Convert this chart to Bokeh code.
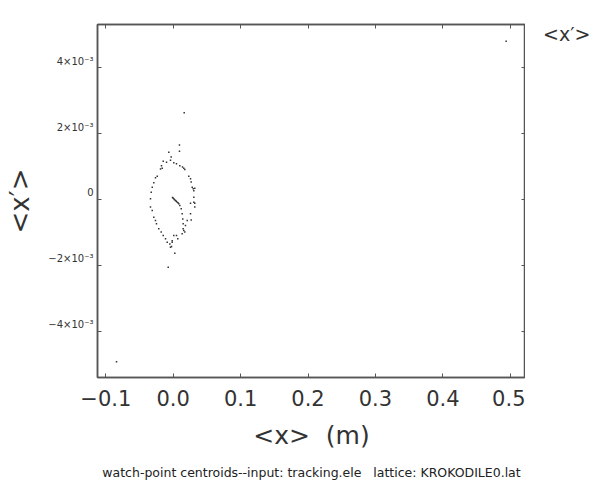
from bokeh.plotting import figure
from bokeh.layouts import row
from bokeh.models import (Range1d, LinearAxis, FixedTicker, CustomJSTickFormatter, Title,
                          Legend, LegendItem)
from bokeh.embed import file_html
from bokeh.resources import INLINE

FONT = "DejaVu Sans"

# watch-point centroids: <x> (m) and <x'> (mrad)
x_vals = [0.0163, 0.0093, 0.0093, -0.0065, -0.0030, -0.0040, -0.0148, -0.0099, 0.0009, 0.0049,
          0.0098, 0.0138, 0.0157, 0.0172, -0.0174, -0.0163, -0.0188, -0.0237, -0.0263, -0.0288,
          -0.0311, -0.0326, -0.0337, 0.0231, 0.0257, 0.0267, 0.0282, 0.0297, 0.0320, 0.0306,
          0.0306, 0.0257, 0.0320, -0.0010, 0.0001, 0.0009, 0.0020, 0.0034, 0.0046, 0.0059,
          0.0071, 0.0083, 0.0098, 0.0119, 0.0133, 0.0142, 0.0148, 0.0148, 0.0133, 0.0306,
          0.0320, 0.0257, 0.0208, 0.0267, 0.0182, 0.0157, 0.0172, -0.0337, -0.0311, -0.0288,
          -0.0263, -0.0248, -0.0214, -0.0178, -0.0148, -0.0114, -0.0089, -0.0050, -0.0015, 0.0009,
          0.0049, 0.0068, -0.0040, -0.0015, -0.0025, 0.0024, -0.0074, 0.4939, -0.0841]
xp_vals_mrad = [2.64, 1.66, 1.47, 1.44, 1.29, 1.19, 1.16, 1.13, 1.12, 1.09,
                1.03, 0.99, 0.95, 0.91, 1.03, 0.95, 0.93, 0.71, 0.66, 0.51,
                0.37, 0.22, 0.02, 0.71, 0.63, 0.53, 0.37, 0.33, 0.34, 0.27,
                0.07, -0.11, -0.11, 0.06, 0.04, 0.02, -0.01, -0.03, -0.05, -0.08,
                -0.10, -0.13, -0.18, -0.28, -0.43, -0.59, -0.74, -0.89, -1.04, -0.08,
                -0.23, -0.43, -0.64, -0.62, -0.79, -0.94, -0.99, -0.23, -0.33, -0.54,
                -0.64, -0.74, -0.89, -0.99, -1.09, -1.19, -1.30, -1.35, -1.25, -1.09,
                -1.09, -1.19, -1.45, -1.30, -1.43, -1.63, -2.06, 4.81, -4.93]
xp_vals = [v * 1e-3 for v in xp_vals_mrad]

x_ticks = [-0.1, 0.0, 0.1, 0.2, 0.3, 0.4, 0.5]
y_ticks = [-0.004, -0.002, 0.0, 0.002, 0.004]
x_limits = (-0.1123, 0.5226)
y_limits = (-5.41e-3, 5.32e-3)

x_title = "<x>\u00a0\u00a0(m)"
y_title = "<x\u2032>"
legend_label = "<x\u2032>"
caption = "watch-point centroids--input: tracking.ele\u00a0\u00a0\u00a0lattice: KROKODILE0.lat"

AX = "#555555"
TXT = "#333333"
DOT = "#333333"

p = figure(frame_width=428, frame_height=353,
           x_range=Range1d(*x_limits), y_range=Range1d(*y_limits),
           output_backend="svg", toolbar_location=None,
           x_axis_location=None, y_axis_location=None,
           min_border_left=97, min_border_right=0, min_border_top=24, min_border_bottom=109,
           background_fill_color="white", border_fill_color="white")
p.grid.visible = False
p.outline_line_color = AX
p.outline_line_width = 1.5

p.scatter(x_vals, xp_vals, marker="square", size=1.5, color=DOT, line_width=0)

x_fmt = CustomJSTickFormatter(code="""
return (tick < -1e-9 ? "\\u2212" : "") + Math.abs(tick).toFixed(1);
""")
y_fmt = CustomJSTickFormatter(code="""
const m = Math.round(tick * 1000);
if (m === 0) return "0\\n";
return (m < 0 ? "\\u2212" : "") + Math.abs(m) + "\\u00d710\\u207b\\u00b3\\n";
""")
blank_fmt = CustomJSTickFormatter(code='return "";')

def style(ax):
    ax.axis_line_color = AX
    ax.axis_line_width = 1.5
    ax.major_tick_line_color = AX
    ax.major_tick_in = 4
    ax.major_tick_out = 0
    ax.minor_tick_in = 0
    ax.minor_tick_out = 0

xb = LinearAxis(ticker=FixedTicker(ticks=x_ticks), formatter=x_fmt, axis_label=x_title)
style(xb)
xb.major_label_text_font = FONT
xb.major_label_text_font_size = "21px"
xb.major_label_text_color = TXT
xb.major_label_standoff = 12
xb.axis_label_text_font = FONT
xb.axis_label_text_font_size = "25px"
xb.axis_label_text_font_style = "normal"
xb.axis_label_text_color = TXT
xb.axis_label_standoff = 12
p.add_layout(xb, "below")

yl = LinearAxis(ticker=FixedTicker(ticks=y_ticks), formatter=y_fmt, axis_label=y_title)
style(yl)
yl.major_label_text_font = FONT
yl.major_label_text_font_size = "10px"
yl.major_label_text_color = TXT
yl.major_label_standoff = 4
yl.axis_label_text_font = FONT
yl.axis_label_text_font_size = "26px"
yl.axis_label_text_font_style = "normal"
yl.axis_label_text_color = TXT
yl.axis_label_standoff = 10
p.add_layout(yl, "left")

for loc, tk in (("above", x_ticks), ("right", y_ticks)):
    ax = LinearAxis(ticker=FixedTicker(ticks=tk), formatter=blank_fmt)
    style(ax)
    ax.major_label_standoff = 0
    ax.major_label_text_font_size = "1px"
    p.add_layout(ax, loc)

cap = Title(text=caption, align="center", text_font=FONT, text_font_size="12.5px",
            text_font_style="normal", text_color="#222222", standoff=20)
p.add_layout(cap, "below")

# side panel holding the legend entry for the <x'> series
pl = figure(width=72, height=80, x_range=Range1d(0, 1), y_range=Range1d(0, 1),
            output_backend="svg", toolbar_location=None,
            x_axis_location=None, y_axis_location=None, min_border=0,
            background_fill_color="white", border_fill_color="white")
pl.grid.visible = False
pl.outline_line_color = None
key = pl.scatter(x=[], y=[], marker="square", size=2, color=DOT, line_width=0)
legend = Legend(items=[LegendItem(label=legend_label, renderers=[key])],
                location=(11, 38), glyph_width=4, glyph_height=4, label_standoff=3,
                padding=0, margin=0, spacing=0,
                border_line_color=None, background_fill_alpha=0,
                label_text_font=FONT, label_text_font_size="19px", label_text_color=TXT)
pl.add_layout(legend, "center")

open("out.html", "w").write(file_html(row(p, pl), INLINE))
